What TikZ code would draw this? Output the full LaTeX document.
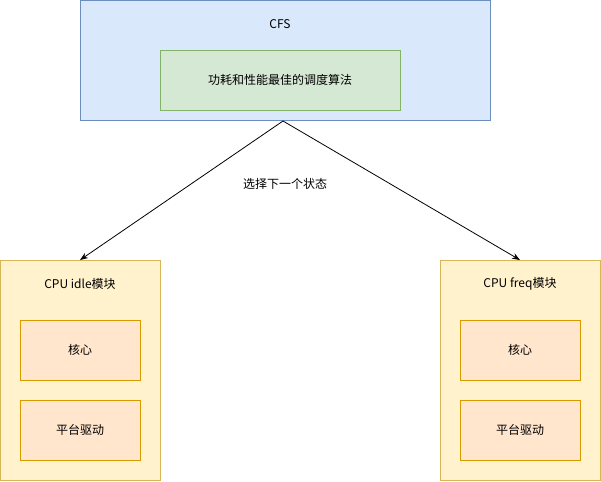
\documentclass[tikz,border=0pt]{standalone}
\usepackage{fontspec}
\setmainfont{Noto Sans CJK SC}
\usetikzlibrary{arrows.meta}
\definecolor{cfsfill}{HTML}{DAE8FC}
\definecolor{cfsline}{HTML}{6C8EBF}
\definecolor{algofill}{HTML}{D5E8D4}
\definecolor{algoline}{HTML}{82B366}
\definecolor{modfill}{HTML}{FFF2CC}
\definecolor{modline}{HTML}{D6B656}
\definecolor{partfill}{HTML}{FFE6CC}
\definecolor{partline}{HTML}{D79B00}
\tikzset{
  every node/.style={font=\fontsize{12}{14}\selectfont},
  cfsbox/.style={fill=cfsfill, draw=cfsline},
  algobox/.style={fill=algofill, draw=algoline},
  modbox/.style={fill=modfill, draw=modline},
  partbox/.style={fill=partfill, draw=partline},
  pick/.style={-{Stealth[length=8pt,width=6pt]}},
}
\begin{document}
\begin{tikzpicture}[x=1pt, y=-1pt, line width=0.8pt]
        \useasboundingbox (0, 0) rectangle (601, 481);
        % scheduler
        \draw [cfsbox] (80.5, 0.5) rectangle (490.5, 120.5);
        \node (cfs) at (280, 24) {CFS};
        \draw [algobox] (160.5, 50.5) rectangle (400.5, 110.5);
        \node (algo) at (280, 80) {功耗和性能最佳的调度算法};
        \coordinate (out) at (283, 121);
        % left module
        \draw [modbox] (0.5, 260.5) rectangle (160.5, 480.5);
        \node (idle) at (80, 284) {CPU idle模块};
        \coordinate (idletop) at (80, 260);
        \draw [partbox] (20.5, 320.5) rectangle (140.5, 380.5);
        \node (idlecore) at (80, 350) {核心};
        \draw [partbox] (20.5, 400.5) rectangle (140.5, 460.5);
        \node (idledrv) at (80, 430) {平台驱动};
        % right module
        \draw [modbox] (440.5, 260.5) rectangle (600.5, 480.5);
        \node (freq) at (520, 284) {CPU freq模块};
        \coordinate (freqtop) at (520, 260);
        \draw [partbox] (460.5, 320.5) rectangle (580.5, 380.5);
        \node (freqcore) at (520, 350) {核心};
        \draw [partbox] (460.5, 400.5) rectangle (580.5, 460.5);
        \node (freqdrv) at (520, 430) {平台驱动};
        % transitions
        \draw [pick] (out) -- (idletop);
        \draw [pick] (out) -- (freqtop);
        \node (choose) at (285, 184) {选择下一个状态};
      \end{tikzpicture}
\end{document}
